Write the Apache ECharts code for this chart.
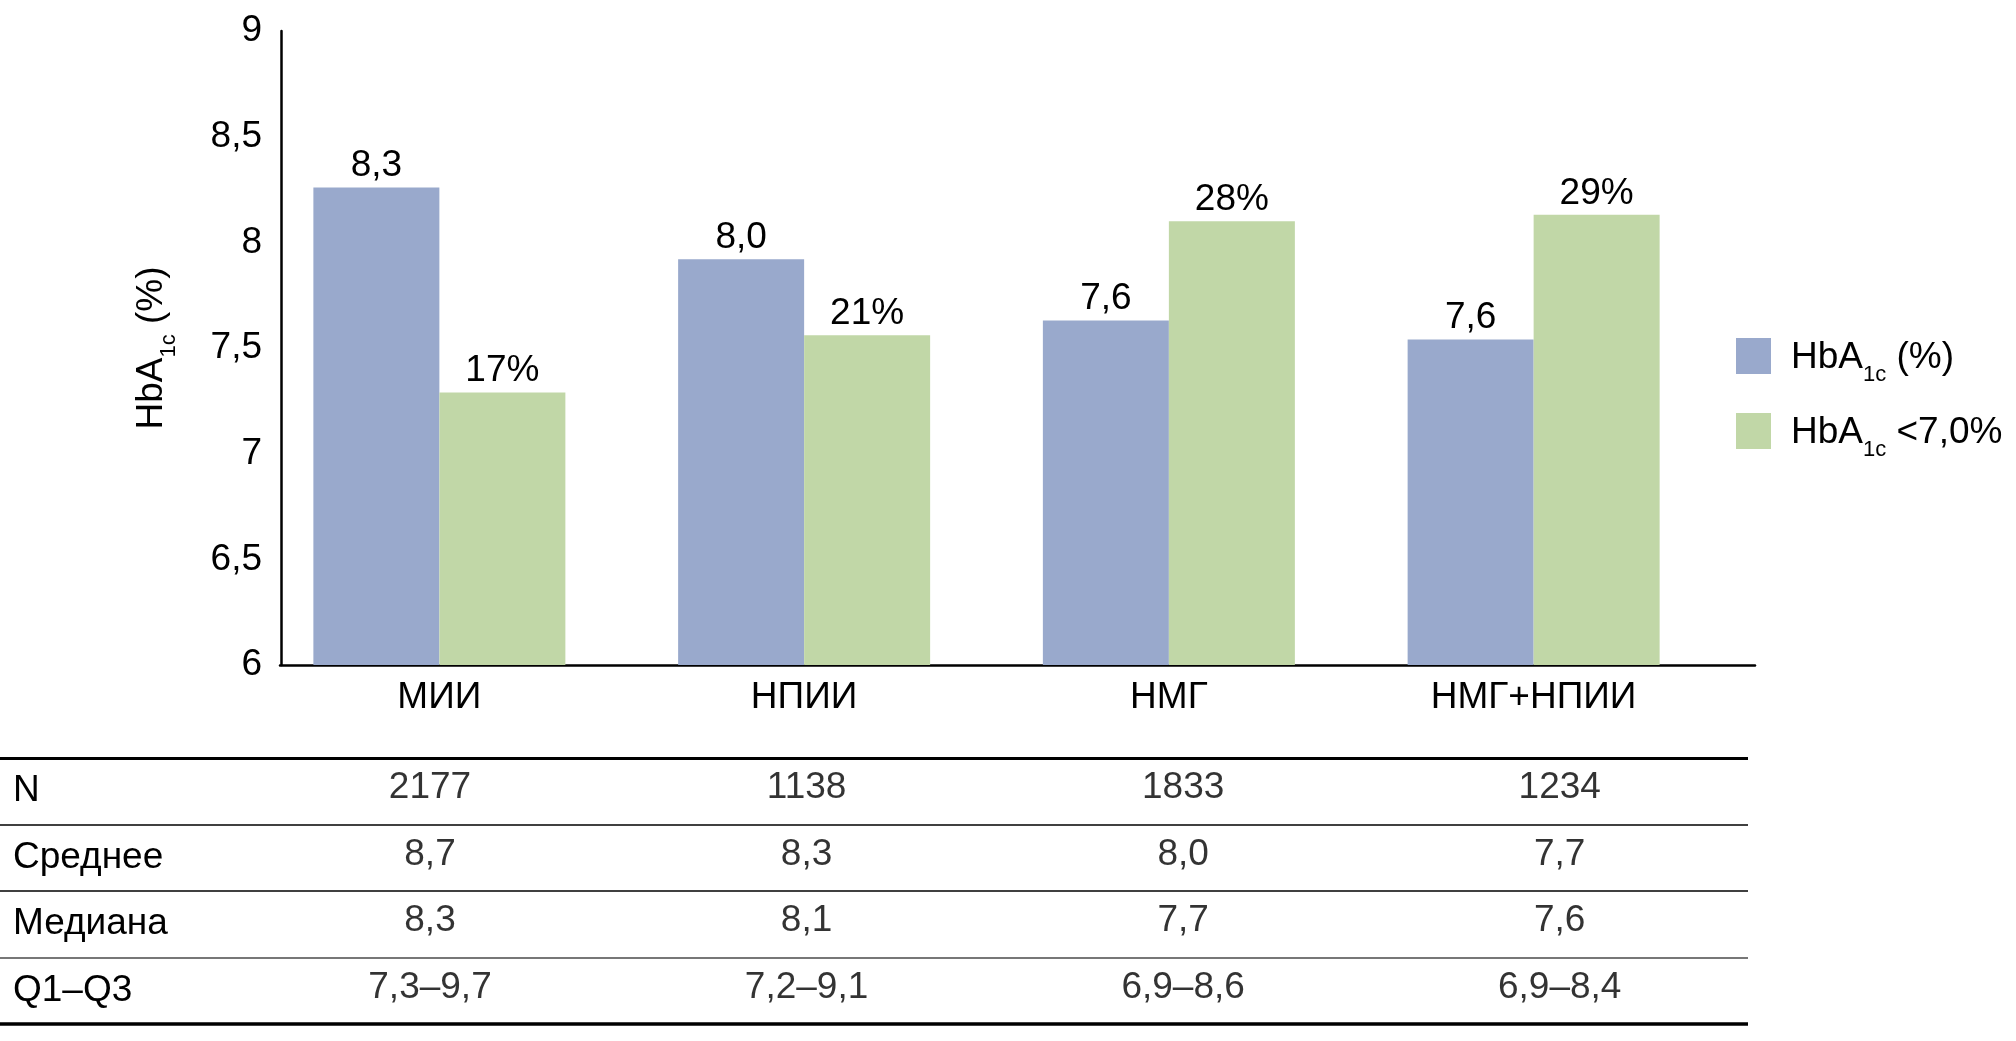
<!DOCTYPE html>
<html><head><meta charset="utf-8">
<script src="https://cdn.jsdelivr.net/npm/echarts@6/dist/echarts.min.js"></script>
<style>html,body{margin:0;padding:0;background:#fff}#c{width:2016px;height:1041px}</style>
</head><body><div id="c"></div>
<script>
// ---- data ----
const categories = ['МИИ', 'НПИИ', 'НМГ', 'НМГ+НПИИ'];
const seriesNames = ['HbA1c (%)', 'HbA1c <7,0%'];
const hba1cValues = [8.26, 7.92, 7.63, 7.54];
const hba1cLabels = ['8,3', '8,0', '7,6', '7,6'];
const targetValues = [7.29, 7.56, 8.10, 8.13];
const targetLabels = ['17%', '21%', '28%', '29%'];
const yMin = 6, yMax = 9, yStep = 0.5;
const tableRowNames = ['N', 'Среднее', 'Медиана', 'Q1–Q3'];
const rowN = ['2177', '1138', '1833', '1234'];
const rowMean = ['8,7', '8,3', '8,0', '7,7'];
const rowMedian = ['8,3', '8,1', '7,7', '7,6'];
const rowIQR = ['7,3–9,7', '7,2–9,1', '6,9–8,6', '6,9–8,4'];
const tableRows = [rowN, rowMean, rowMedian, rowIQR];

// ---- styling ----
const FONT = "'Liberation Sans', Arial, sans-serif";
const FS = 37;
const BLUE = '#99A9CC', GREEN = '#C1D7A7';

const subRich = (extraTop) => ({
  m0: {fontFamily: FONT, fontSize: FS, lineHeight: 40, verticalAlign: 'top', color: '#000', padding: [extraTop, 0, 0, 15]},
  m:  {fontFamily: FONT, fontSize: FS, lineHeight: 40, verticalAlign: 'top', color: '#000', padding: [extraTop, 0, 0, 0]},
  a:  {fontFamily: FONT, fontSize: FS, lineHeight: 40, verticalAlign: 'top', color: '#000', padding: [extraTop, 0, 0, 0]},
  s:  {fontFamily: FONT, fontSize: 22, lineHeight: 40, verticalAlign: 'top', color: '#000', padding: [25 + extraTop, 0, 0, 0]}
});
function subFormat(n, first) {
  const i = n.indexOf('1c');
  return '{' + first + '|' + n.slice(0, i) + '}{s|1c}{m|' + n.slice(i + 2) + '}';
}

const labelColFrac = 242 / 377;
const tableData = [];
tableRows.forEach((row, r) => row.forEach((t, c) => tableData.push({name: t, value: [c + 0.5, r + 0.5]})));
const ruleStyles = [
  {width: 3, color: '#000'}, {width: 1.5, color: '#000'}, {width: 1.5, color: '#000'},
  {width: 2, color: '#777'}, {width: 3.5, color: '#000'}
];

const chart = echarts.init(document.getElementById('c'));
chart.setOption({
  animation: false,
  backgroundColor: '#fff',
  textStyle: {fontFamily: FONT},
  legend: {
    orient: 'vertical', left: 1731, top: 331, itemWidth: 35, itemHeight: 36, itemGap: 25,
    icon: 'rect', selectedMode: false, data: seriesNames,
    formatter: n => subFormat(n, 'm0'),
    textStyle: {rich: subRich(3)}
  },
  grid: [
    {left: 257, width: 1459, top: 31, height: 634},
    {left: 280, width: 1475, top: 31, height: 634},
    {left: 0, width: 1748, top: 758, height: 266}
  ],
  xAxis: [
    {type: 'category', gridIndex: 0, data: categories,
     axisLine: {show: false}, axisTick: {show: false},
     axisLabel: {fontSize: FS, color: '#000', margin: 14, fontFamily: FONT}},
    {type: 'value', gridIndex: 1, min: 0, max: 1, position: 'bottom',
     axisLine: {show: true, lineStyle: {color: '#000', width: 2.5}},
     axisTick: {show: false}, axisLabel: {show: false}, splitLine: {show: false}},
    {type: 'value', gridIndex: 2, min: -labelColFrac, max: 4, show: false}
  ],
  yAxis: [
    {type: 'value', gridIndex: 0, min: yMin, max: yMax, interval: yStep, offset: -24,
     axisLine: {show: true, lineStyle: {color: '#000', width: 2.5}},
     axisTick: {show: false}, splitLine: {show: false},
     axisLabel: {fontSize: FS, color: '#000', margin: 19, fontFamily: FONT,
       formatter: v => String(v).replace('.', ',')},
     name: subFormat(seriesNames[0], 'a'), nameLocation: 'middle', nameRotate: 90, nameGap: 108,
     nameTextStyle: {rich: subRich(0)}},
    {type: 'value', gridIndex: 1, min: 0, max: 1, show: false},
    {type: 'value', gridIndex: 2, min: 0, max: 4, interval: 0.5, inverse: true,
     axisLine: {show: false}, axisTick: {show: false}, splitLine: {show: false},
     axisLabel: {inside: true, margin: 13, fontSize: FS, color: '#000', fontFamily: FONT,
       align: 'left', padding: [0, 0, 6, 0],
       formatter: v => (v % 1 === 0.5 ? tableRowNames[Math.floor(v)] : '')}}
  ],
  series: [
    {name: seriesNames[0], type: 'bar', xAxisIndex: 0, yAxisIndex: 0, data: hba1cValues,
     barWidth: 126, barGap: '0%', itemStyle: {color: BLUE},
     label: {show: true, position: 'top', distance: 3, fontSize: FS, color: '#000', fontFamily: FONT,
       formatter: p => hba1cLabels[p.dataIndex]}},
    {name: seriesNames[1], type: 'bar', xAxisIndex: 0, yAxisIndex: 0, data: targetValues,
     barWidth: 126, barGap: '0%', itemStyle: {color: GREEN},
     label: {show: true, position: 'top', distance: 3, fontSize: FS, color: '#000', fontFamily: FONT,
       formatter: p => targetLabels[p.dataIndex]}},
    {type: 'scatter', xAxisIndex: 2, yAxisIndex: 2, data: tableData, symbolSize: 1,
     itemStyle: {color: 'transparent'}, silent: true,
     label: {show: true, position: 'inside', offset: [0, -3], formatter: '{b}',
       fontSize: FS, color: '#000', fontFamily: FONT},
     markLine: {silent: true, symbol: 'none', label: {show: false},
       data: ruleStyles.map((s, i) => ({yAxis: i, lineStyle: {type: 'solid', width: s.width, color: s.color}}))}}
  ]
});
</script>
</body></html>
